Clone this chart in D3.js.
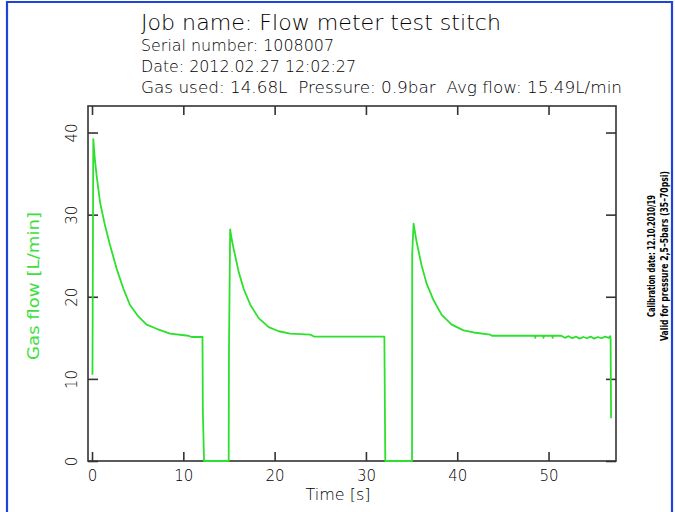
<!DOCTYPE html>
<html>
<head>
<meta charset="utf-8">
<script src="https://cdn.jsdelivr.net/npm/d3@7"></script>
<style>
  body { margin: 0; background: #fff; }
  svg { display: block; }
  text { font-family: "DejaVu Sans", sans-serif; font-weight: 200; fill: #000; white-space: pre; }
</style>
</head>
<body>
<svg id="chart" width="675" height="512"></svg>
<script>
// header text lines
const headerLines = [
  "Job name: Flow meter test stitch",
  "Serial number: 1008007",
  "Date: 2012.02.27 12:02:27",
  "Gas used: 14.68L  Pressure: 0.9bar  Avg flow: 15.49L/min"
];
const noteLines = [
  "Calibration date: 12.10.2010/19",
  "Valid for pressure 2,5\u20135bars (35\u201370psi)"
];

// ticks
const xTicks = [0, 10, 20, 30, 40, 50];
const yTicks = [0, 10, 20, 30, 40];

const timeS = [
  0.05, 0.14, 0.3, 0.5, 0.88, 1.42, 1.97, 2.7, 3.43, 4.16, 5.07, 5.98, 7.08, 8.54, 10.55, 10.9, 12.1, 12.14, 12.27,
  14.97, 15.0, 15.13, 15.3, 15.5, 16.07, 16.6, 17.35, 18.25, 19.35, 20.45, 21.7, 23.9, 24.3, 32.02, 32.12,
  35.05, 35.07, 35.22, 35.38, 35.55, 36.1, 36.65, 37.4, 38.3, 39.4, 40.7, 41.8, 43.6, 43.8,
  48.5, 48.55, 48.6, 49.4, 49.45, 49.5, 50.4, 50.45, 50.5, 51.4,
  51.8, 52.2, 52.6, 53.0, 53.4, 53.8, 54.2, 54.6, 55.0, 55.4, 55.8, 56.2, 56.6, 56.75, 56.8, 56.85
];
const flowLmin = [
  10.5, 39.2, 36.9, 34.8, 31.5, 28.7, 26.3, 23.4, 21.0, 19.0, 17.6, 16.6, 16.1, 15.5, 15.25, 15.1, 15.1, 6.0, 0,
  0, 13.4, 28.2, 27.0, 25.9, 23.0, 21.0, 19.0, 17.4, 16.3, 15.8, 15.5, 15.4, 15.15, 15.15, 0,
  0, 25.3, 28.9, 27.8, 26.7, 23.8, 21.6, 19.6, 17.8, 16.6, 15.9, 15.65, 15.4, 15.25,
  15.25, 15.0, 15.25, 15.25, 15.0, 15.25, 15.25, 15.0, 15.25, 15.25,
  15.0, 15.2, 14.95, 15.15, 14.9, 15.1, 14.95, 15.15, 14.9, 15.1, 14.95, 15.15, 15.0, 15.2, 14.8, 5.2
];

const svg = d3.select("#chart");
const plotL = 88, plotT = 106, plotR = 616, plotB = 461;
const green = "#2ee02e";

// blue page border
svg.append("path")
  .attr("d", "M7,520V2H672V520")
  .attr("fill", "none")
  .attr("stroke", "#1d44d8")
  .attr("stroke-width", 2.2);

const x = d3.scaleLinear().domain([-0.44, 57.39]).range([plotL, plotR]);
const y = d3.scaleLinear().domain([0, 43.23]).range([plotB, plotT]);

// header
const hdrY = [30, 51, 72, 93];
const hdrSize = [21, 15, 15, 15];
const hdrLen = [360, 193, 215, 481];
svg.selectAll("text.hdr").data(headerLines).enter()
  .append("text").attr("class", "hdr")
  .attr("x", 141)
  .attr("y", (d, i) => hdrY[i])
  .attr("font-size", (d, i) => hdrSize[i])
  .attr("textLength", (d, i) => hdrLen[i])
  .attr("lengthAdjust", "spacingAndGlyphs")
  .text(d => d);

// axes (ticks point inward)
const gx = svg.append("g").attr("transform", `translate(0,${plotB})`)
  .call(d3.axisBottom(x).tickValues(xTicks).tickSizeInner(-9).tickSizeOuter(0).tickPadding(9));
const gxt = svg.append("g").attr("transform", `translate(0,${plotT})`)
  .call(d3.axisTop(x).tickValues(xTicks).tickSizeInner(-9).tickSizeOuter(0).tickFormat(""));
const gy = svg.append("g").attr("transform", `translate(${plotL},0)`)
  .call(d3.axisLeft(y).tickValues(yTicks).tickSizeInner(-10).tickSizeOuter(0));
const gyr = svg.append("g").attr("transform", `translate(${plotR},0)`)
  .call(d3.axisRight(y).tickValues(yTicks).tickSizeInner(-10).tickSizeOuter(0).tickFormat(""));

[gx, gxt, gy, gyr].forEach(g => {
  g.select(".domain").remove();
  g.selectAll("line").attr("stroke", "#333").attr("stroke-width", 1.6);
  g.selectAll("text").attr("font-family", null).attr("font-size", 15).attr("fill", "#000");
});

gy.selectAll("text")
  .attr("transform", "rotate(-90)")
  .attr("x", 0).attr("y", -11).attr("dy", 0)
  .attr("text-anchor", "middle");

// frame
svg.append("rect")
  .attr("x", plotL).attr("y", plotT)
  .attr("width", plotR - plotL).attr("height", plotB - plotT)
  .attr("fill", "none").attr("stroke", "#333").attr("stroke-width", 1.6);

// axis titles
svg.append("text")
  .attr("x", 338).attr("y", 500)
  .attr("text-anchor", "middle")
  .attr("font-size", 16)
  .text("Time [s]");

svg.append("text")
  .attr("transform", "translate(39,286) rotate(-90)")
  .attr("text-anchor", "middle")
  .attr("font-size", 15)
  .style("font-weight", 400)
  .style("fill", "#3ee03e")
  .attr("textLength", 148)
  .attr("lengthAdjust", "spacingAndGlyphs")
  .text("Gas flow [L/min]");

// calibration note
const noteX = [655, 668];
const noteLen = [122, 170];
svg.selectAll("text.note").data(noteLines).enter()
  .append("text").attr("class", "note")
  .attr("transform", (d, i) => `translate(${noteX[i]},256) rotate(-90)`)
  .attr("text-anchor", "middle")
  .attr("font-size", 10.5)
  .style("font-weight", 700)
  .attr("textLength", (d, i) => noteLen[i])
  .attr("lengthAdjust", "spacingAndGlyphs")
  .text(d => d);

// flow line
const pts = timeS.map((t, i) => [t, flowLmin[i]]);
svg.append("path")
  .datum(pts)
  .attr("fill", "none")
  .attr("stroke", green)
  .attr("stroke-width", 1.8)
  .attr("stroke-linejoin", "round")
  .attr("d", d3.line().x(d => x(d[0])).y(d => y(d[1])));
</script>
</body>
</html>
